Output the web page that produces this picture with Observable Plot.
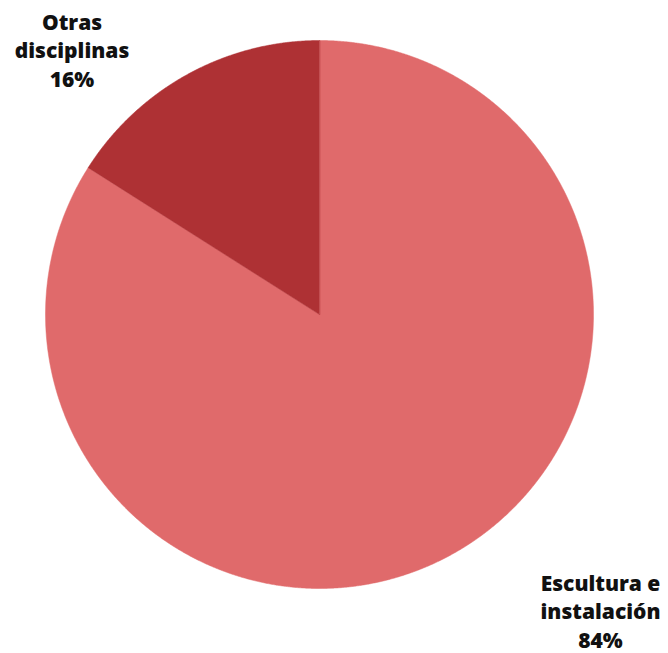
<!DOCTYPE html>
<html><head><meta charset="utf-8">
<script src="https://cdn.jsdelivr.net/npm/d3@7"></script>
<script src="https://cdn.jsdelivr.net/npm/@observablehq/plot@0.6"></script>
<style>html,body{margin:0;padding:0;background:#fff}</style>
</head><body><div id="chart"></div>
<script>
const categories = ["Escultura e instalación", "Otras disciplinas"];
const shares = [84, 16];
const labels = ["Escultura e\ninstalación\n84%", "Otras\ndisciplinas\n16%"];
const colors = ["#E06A6B", "#AE3134"];

// Build slice outlines (unit circle) from the shares via d3.pie
const arcs = d3.pie().sort(null)(shares);
const pts = [];
arcs.forEach((a, i) => {
  pts.push({cat: categories[i], x: 0, y: 0});
  const n = Math.max(2, Math.ceil((a.endAngle - a.startAngle) / 0.004));
  for (let k = 0; k <= n; k++) {
    const t = a.startAngle + (a.endAngle - a.startAngle) * k / n;
    pts.push({cat: categories[i], x: Math.sin(t), y: Math.cos(t)});
  }
});

const textStyle = {fontSize: 21, fontWeight: 800, lineHeight: 1.36, fill: "#111", textAnchor: "middle", lineAnchor: "top"};

const chart = Plot.plot({
  width: 668, height: 653,
  marginLeft: 45, marginRight: 75, marginTop: 40, marginBottom: 65,
  x: {domain: [-1, 1], axis: null},
  y: {domain: [-1, 1], axis: null},
  color: {domain: categories, range: colors},
  style: {fontFamily: "'Open Sans', sans-serif", background: "white"},
  marks: [
    Plot.line(pts, {x: "x", y: "y", z: "cat", fill: "cat", stroke: "cat", strokeWidth: 0.5, curve: "linear-closed"}),
    Plot.text([labels[1]], {text: d => d, frameAnchor: "top-left", dx: 26.5, dy: -31, ...textStyle}),
    Plot.text([labels[0]], {text: d => d, frameAnchor: "bottom-right", dx: 7, dy: -18, ...textStyle})
  ]
});
document.getElementById("chart").appendChild(chart);
</script>
</body></html>
